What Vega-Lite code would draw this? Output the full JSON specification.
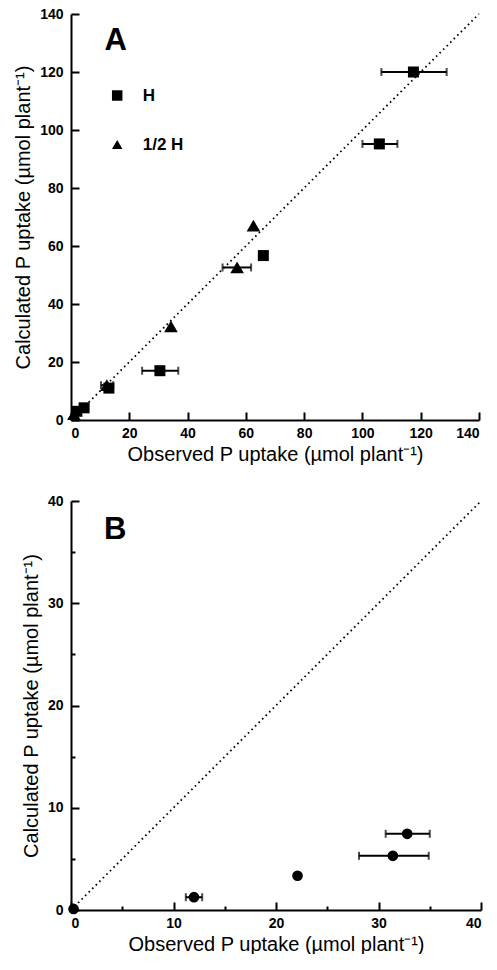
{
  "$schema": "https://vega.github.io/schema/vega-lite/v6.json",
  "padding": {"left": 13, "top": 7, "right": 0, "bottom": 0},
  "spacing": 30,
  "config": {
    "view": {"stroke": null},
    "font": "Liberation Sans",
    "axis": {
      "grid": false,
      "domainColor": "black",
      "domainWidth": 2,
      "tickColor": "black",
      "tickWidth": 2,
      "labelFont": "Liberation Sans",
      "labelFontSize": 14,
      "labelFontWeight": "bold",
      "labelColor": "black",
      "titleFont": "Liberation Sans",
      "titleFontSize": 20,
      "titleFontWeight": "normal",
      "titleColor": "black"
    },
    "axisX": {"labelPadding": 14, "titlePadding": 4},
    "axisY": {"labelPadding": 16, "titlePadding": 6},
    "legend": {"orient": "none", "legendX": 37.7, "legendY": 73, "title": null, "padding": 0,
      "labelFont": "Liberation Sans", "labelFontSize": 17, "labelFontWeight": "bold", "labelColor": "black",
      "symbolSize": 110, "symbolFillColor": "black", "symbolStrokeColor": "black", "symbolStrokeWidth": 0,
      "rowPadding": 31, "labelOffset": 17, "labelLimit": 0}
  },
  "vconcat": [
    {
      "width": 408,
      "height": 406,
      "data": {"values": [
        {"obs": 117.5, "calc": 120, "lo": 106.5, "hi": 128.9, "trt": "H"},
        {"obs": 105.8, "calc": 95.2, "lo": 100, "hi": 112, "trt": "H"},
        {"obs": 66, "calc": 56.7, "trt": "H"},
        {"obs": 30.5, "calc": 17, "lo": 24.4, "hi": 36.8, "trt": "H"},
        {"obs": 13, "calc": 11, "trt": "H"},
        {"obs": 4.5, "calc": 4.2, "trt": "H"},
        {"obs": 2, "calc": 3, "trt": "H"},
        {"obs": 62.6, "calc": 67, "trt": "1/2 H"},
        {"obs": 57, "calc": 52.6, "lo": 52, "hi": 61.8, "trt": "1/2 H"},
        {"obs": 34.3, "calc": 32.3, "trt": "1/2 H"},
        {"obs": 12.3, "calc": 12, "lo": 10.3, "hi": 14.5, "trt": "1/2 H"},
        {"obs": 1, "calc": 2, "trt": "1/2 H"}
      ]},
      "layer": [
        {
          "data": {"values": [{"obs": 0, "calc": 0}, {"obs": 140, "calc": 140}]},
          "mark": {"type": "line", "color": "black", "strokeWidth": 1.8, "strokeDash": [1.6, 3.4]},
          "encoding": {
            "x": {"field": "obs", "type": "quantitative", "scale": {"domain": [0, 140], "nice": false},
              "axis": {"title": "Observed P uptake (µmol plant⁻¹)", "values": [0,10,20,30,40,50,60,70,80,90,100,110,120,130,140],
                "labelExpr": "datum.value % 20 === 0 ? datum.label : ''",
                "tickSize": {"condition": {"test": "datum.value % 20 === 0", "value": -8}, "value": -4}}},
            "y": {"field": "calc", "type": "quantitative", "scale": {"domain": [0, 140], "nice": false},
              "axis": {"title": "Calculated P uptake (µmol plant⁻¹)", "values": [0,10,20,30,40,50,60,70,80,90,100,110,120,130,140],
                "labelExpr": "datum.value % 20 === 0 ? datum.label : ''",
                "tickSize": {"condition": {"test": "datum.value % 20 === 0", "value": -8}, "value": -4}}}
          }
        },
        {
          "transform": [{"filter": "isValid(datum.lo)"}],
          "mark": {"type": "errorbar", "color": "black", "thickness": 2, "ticks": {"size": 8, "thickness": 2}},
          "encoding": {
            "x": {"field": "lo", "type": "quantitative", "title": "Observed P uptake (µmol plant⁻¹)"},
            "x2": {"field": "hi"},
            "y": {"field": "calc", "type": "quantitative", "title": "Calculated P uptake (µmol plant⁻¹)"}
          }
        },
        {
          "transform": [{"filter": "datum.trt === 'H'"}],
          "mark": {"type": "point", "filled": true, "opacity": 1, "color": "black", "size": 121},
          "encoding": {
            "x": {"field": "obs", "type": "quantitative", "title": "Observed P uptake (µmol plant⁻¹)"},
            "y": {"field": "calc", "type": "quantitative", "title": "Calculated P uptake (µmol plant⁻¹)"},
            "shape": {"field": "trt", "type": "nominal",
              "scale": {"domain": ["H", "1/2 H"], "range": ["square", "triangle-up"]}}
          }
        },
        {
          "transform": [{"filter": "datum.trt === '1/2 H'"}],
          "mark": {"type": "point", "filled": true, "opacity": 1, "color": "black", "size": 185},
          "encoding": {
            "x": {"field": "obs", "type": "quantitative", "title": "Observed P uptake (µmol plant⁻¹)"},
            "y": {"field": "calc", "type": "quantitative", "title": "Calculated P uptake (µmol plant⁻¹)"},
            "shape": {"field": "trt", "type": "nominal",
              "scale": {"domain": ["H", "1/2 H"], "range": ["square", "triangle-up"]}}
          }
        },
        {
          "data": {"values": [{"obs": 15.3, "calc": 127.7, "lab": "A"}]},
          "mark": {"type": "text", "fontSize": 31, "fontWeight": "bold", "align": "center", "baseline": "alphabetic", "color": "black", "font": "Liberation Sans"},
          "encoding": {
            "x": {"field": "obs", "type": "quantitative", "title": "Observed P uptake (µmol plant⁻¹)"},
            "y": {"field": "calc", "type": "quantitative", "title": "Calculated P uptake (µmol plant⁻¹)"},
            "text": {"field": "lab"}
          }
        }
      ]
    },
    {
      "width": 410,
      "height": 409,
      "data": {"values": [
        {"obs": 0.25, "calc": 0.1},
        {"obs": 12.0, "calc": 1.25, "lo": 11.2, "hi": 12.8},
        {"obs": 22.1, "calc": 3.35},
        {"obs": 31.4, "calc": 5.3, "lo": 28.1, "hi": 34.9},
        {"obs": 32.8, "calc": 7.45, "lo": 30.7, "hi": 35.0}
      ]},
      "layer": [
        {
          "data": {"values": [{"obs": 0, "calc": 0}, {"obs": 40, "calc": 40}]},
          "mark": {"type": "line", "color": "black", "strokeWidth": 1.8, "strokeDash": [1.6, 3.4]},
          "encoding": {
            "x": {"field": "obs", "type": "quantitative", "scale": {"domain": [0, 40], "nice": false},
              "axis": {"title": "Observed P uptake (µmol plant⁻¹)", "values": [0,5,10,15,20,25,30,35,40],
                "labelExpr": "datum.value % 10 === 0 ? datum.label : ''",
                "tickSize": {"condition": {"test": "datum.value % 10 === 0", "value": -8}, "value": -4}}},
            "y": {"field": "calc", "type": "quantitative", "scale": {"domain": [0, 40], "nice": false},
              "axis": {"title": "Calculated P uptake (µmol plant⁻¹)", "values": [0,5,10,15,20,25,30,35,40],
                "labelExpr": "datum.value % 10 === 0 ? datum.label : ''",
                "tickSize": {"condition": {"test": "datum.value % 10 === 0", "value": -8}, "value": -4}}}
          }
        },
        {
          "transform": [{"filter": "isValid(datum.lo)"}],
          "mark": {"type": "errorbar", "color": "black", "thickness": 2, "ticks": {"size": 8, "thickness": 2}},
          "encoding": {
            "x": {"field": "lo", "type": "quantitative", "title": "Observed P uptake (µmol plant⁻¹)"},
            "x2": {"field": "hi"},
            "y": {"field": "calc", "type": "quantitative", "title": "Calculated P uptake (µmol plant⁻¹)"}
          }
        },
        {
          "mark": {"type": "point", "filled": true, "opacity": 1, "color": "black", "size": 115, "shape": "circle"},
          "encoding": {
            "x": {"field": "obs", "type": "quantitative", "title": "Observed P uptake (µmol plant⁻¹)"},
            "y": {"field": "calc", "type": "quantitative", "title": "Calculated P uptake (µmol plant⁻¹)"}
          }
        },
        {
          "data": {"values": [{"obs": 4.3, "calc": 36.3, "lab": "B"}]},
          "mark": {"type": "text", "fontSize": 31, "fontWeight": "bold", "align": "center", "baseline": "alphabetic", "color": "black", "font": "Liberation Sans"},
          "encoding": {
            "x": {"field": "obs", "type": "quantitative", "title": "Observed P uptake (µmol plant⁻¹)"},
            "y": {"field": "calc", "type": "quantitative", "title": "Calculated P uptake (µmol plant⁻¹)"},
            "text": {"field": "lab"}
          }
        }
      ]
    }
  ]
}
